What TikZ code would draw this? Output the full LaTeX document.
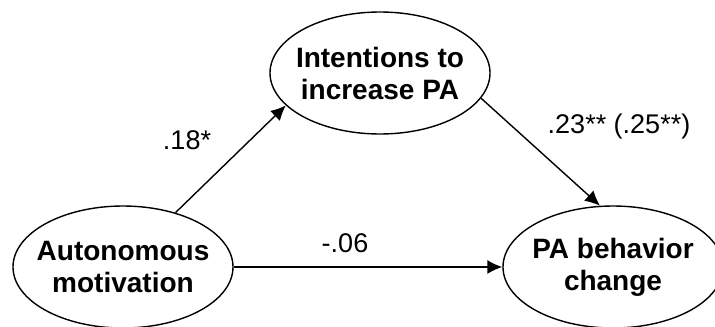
\documentclass[tikz,border=0pt]{standalone}
\usepackage{fontspec}
\setmainfont{Liberation Sans}
\usetikzlibrary{arrows.meta,shapes.geometric}

\tikzset{
	factor/.style={draw, ellipse, line width=.7pt, inner xsep=-5pt, inner ysep=0pt, minimum width=110pt, minimum height=61pt, align=center, font=\fontsize{14}{16}\selectfont\bfseries},
	coef/.style={font=\fontsize{13.5}{16}\selectfont},
	path/.style={-{Latex[length=7.5pt,width=7pt]}, line width=.7pt}
}

\begin{document}
\begin{tikzpicture}[x=.5pt,y=-.5pt]
			\useasboundingbox (0,0) rectangle (715,326);
			\node[factor] (auton) at (123,267) {Autonomous\\motivation};
			\node[factor] (intent) at (380,73) {Intentions to\\increase PA};
			\node[factor] (change) at (613,267) {PA behavior\\change};

			\draw[path] (auton.46) -- (intent.199);
			\draw[path] (intent.346) -- (change.102);
			\draw[path] (auton.east) -- (change.west);

			\node[coef] (a) at (187,140) {.18*};
			\node[coef] (b) at (619,127) {.23** (.25**)};
			\node[coef] (c) at (345,243) {-.06};
		\end{tikzpicture}
\end{document}
